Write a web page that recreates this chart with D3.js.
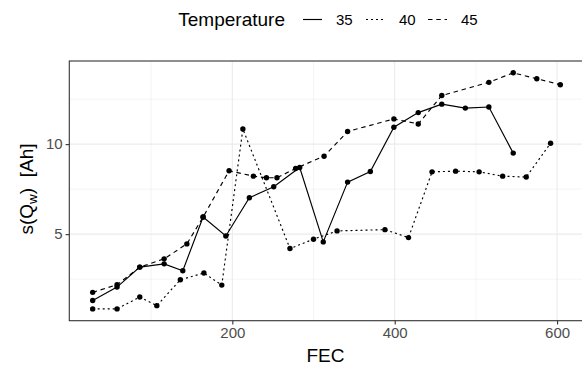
<!DOCTYPE html>
<html>
<head>
<meta charset="utf-8">
<script src="https://cdn.jsdelivr.net/npm/d3@7/dist/d3.min.js"></script>
<style>
  html, body { margin: 0; padding: 0; background: #fff; }
  svg { display: block; font-family: "Liberation Sans", Arial, sans-serif; }
</style>
</head>
<body>
<svg id="chart" width="582" height="369"></svg>
<script>
// ---- data ----
const fec35 = [28, 58, 86, 116, 139, 164, 192, 221, 251, 283, 312, 342, 370, 399, 429, 458, 487, 516, 546];
const q35   = [1.32, 2.06, 3.17, 3.35, 2.97, 5.95, 4.90, 7.02, 7.63, 8.70, 4.57, 7.89, 8.48, 10.94, 11.75, 12.22, 12.00, 12.06, 9.50];
const fec40 = [28, 58, 86, 107, 136, 165, 187, 213, 271, 300, 329, 388, 417, 446, 475, 504, 533, 562, 592];
const q40   = [0.85, 0.85, 1.51, 1.03, 2.47, 2.84, 2.17, 10.84, 4.20, 4.72, 5.18, 5.25, 4.81, 8.46, 8.50, 8.46, 8.22, 8.17, 10.05];
const fec45 = [28, 58, 86, 116, 144, 164, 196, 226, 242, 255, 278, 313, 342, 399, 429, 458, 516, 546, 575, 604];
const q45   = [1.77, 2.19, 3.17, 3.63, 4.46, 5.95, 8.52, 8.22, 8.13, 8.13, 8.65, 9.33, 10.70, 11.40, 11.12, 12.70, 13.43, 13.96, 13.63, 13.30];
const temps = ["35", "40", "45"];
const xTicks = [200, 400, 600];
const xMinor = [100, 300, 500];
const yTicks = [5, 10];
const yMinor = [2.5, 7.5, 12.5];

const series = [
  {name: temps[0], x: fec35, y: q35, dash: null},
  {name: temps[1], x: fec40, y: q40, dash: "2,3"},
  {name: temps[2], x: fec45, y: q45, dash: "4.5,3.8"}
];

// ---- layout ----
const svg = d3.select("#chart");
const P = {left: 69.3, right: 583.7, top: 61, bottom: 320.7};

const allX = fec35.concat(fec40, fec45);
const allY = q35.concat(q40, q45);
const [xmin, xmax] = d3.extent(allX);
const [ymin, ymax] = d3.extent(allY);
const xr = xmax - xmin, yr = ymax - ymin;
const x = d3.scaleLinear().domain([xmin - 0.05 * xr, xmax + 0.05 * xr]).range([P.left, P.right]);
const y = d3.scaleLinear().domain([ymin - 0.05 * yr, ymax + 0.05 * yr]).range([P.bottom, P.top]);

// grid
const g = svg.append("g");
g.selectAll(".xminor").data(xMinor).enter().append("line")
  .attr("x1", d => x(d)).attr("x2", d => x(d)).attr("y1", P.top).attr("y2", P.bottom)
  .attr("stroke", "#EBEBEB").attr("stroke-width", 0.55);
g.selectAll(".yminor").data(yMinor).enter().append("line")
  .attr("y1", d => y(d)).attr("y2", d => y(d)).attr("x1", P.left).attr("x2", P.right)
  .attr("stroke", "#EBEBEB").attr("stroke-width", 0.55);
g.selectAll(".xmajor").data(xTicks).enter().append("line")
  .attr("x1", d => x(d)).attr("x2", d => x(d)).attr("y1", P.top).attr("y2", P.bottom)
  .attr("stroke", "#EBEBEB").attr("stroke-width", 1.1);
g.selectAll(".ymajor").data(yTicks).enter().append("line")
  .attr("y1", d => y(d)).attr("y2", d => y(d)).attr("x1", P.left).attr("x2", P.right)
  .attr("stroke", "#EBEBEB").attr("stroke-width", 1.1);

// series
const line = d3.line().x(d => x(d[0])).y(d => y(d[1]));
series.forEach(s => {
  const pts = s.x.map((v, i) => [v, s.y[i]]);
  svg.append("path").datum(pts).attr("d", line)
    .attr("fill", "none").attr("stroke", "#000").attr("stroke-width", 1.15)
    .attr("stroke-dasharray", s.dash);
  svg.append("g").selectAll("circle").data(pts).enter().append("circle")
    .attr("cx", d => x(d[0])).attr("cy", d => y(d[1])).attr("r", 2.7).attr("fill", "#000");
});

// border
svg.append("rect").attr("x", P.left).attr("y", P.top)
  .attr("width", P.right - P.left).attr("height", P.bottom - P.top)
  .attr("fill", "none").attr("stroke", "#333333").attr("stroke-width", 1.1);

// axes
const xAxis = d3.axisBottom(x).tickValues(xTicks).tickSize(3.7).tickPadding(3).tickFormat(d3.format("d"));
const ax = svg.append("g").attr("transform", `translate(0,${P.bottom})`).call(xAxis);
ax.select(".domain").remove();
ax.selectAll("line").attr("stroke", "#333333").attr("stroke-width", 1.1);
ax.selectAll("text").attr("fill", "#4D4D4D").attr("font-size", 15).attr("font-family", "Liberation Sans, Arial, sans-serif");

const yAxis = d3.axisLeft(y).tickValues(yTicks).tickSize(3.7).tickPadding(3).tickFormat(d3.format("d"));
const ay = svg.append("g").attr("transform", `translate(${P.left},0)`).call(yAxis);
ay.select(".domain").remove();
ay.selectAll("line").attr("stroke", "#333333").attr("stroke-width", 1.1);
ay.selectAll("text").attr("fill", "#4D4D4D").attr("font-size", 15).attr("font-family", "Liberation Sans, Arial, sans-serif");

// axis titles
svg.append("text").attr("x", (P.left + P.right) / 2 - 1).attr("y", 362)
  .attr("text-anchor", "middle").attr("font-size", 19).attr("fill", "#000").text("FEC");

const yt = svg.append("text").attr("transform", `translate(33,189) rotate(-90)`)
  .attr("text-anchor", "middle").attr("font-size", 19).attr("fill", "#000");
yt.append("tspan").text("s(Q");
yt.append("tspan").attr("font-size", 13.5).attr("dy", 4).text("w");
yt.append("tspan").attr("dy", -4).text(")\u00A0\u00A0[Ah]");

// legend
const lg = svg.append("g");
lg.append("text").attr("x", 178.3).attr("y", 25.8).attr("font-size", 19).attr("fill", "#000").text("Temperature");
const keyX = [303, 366, 428];
series.forEach((s, i) => {
  lg.append("line").attr("x1", keyX[i]).attr("x2", keyX[i] + 19).attr("y1", 19.5).attr("y2", 19.5)
    .attr("stroke", "#000").attr("stroke-width", 1.15).attr("stroke-dasharray", s.dash);
  lg.append("text").attr("x", keyX[i] + 33).attr("y", 24.8).attr("font-size", 15).attr("fill", "#000").text(s.name);
});
</script>
</body>
</html>
